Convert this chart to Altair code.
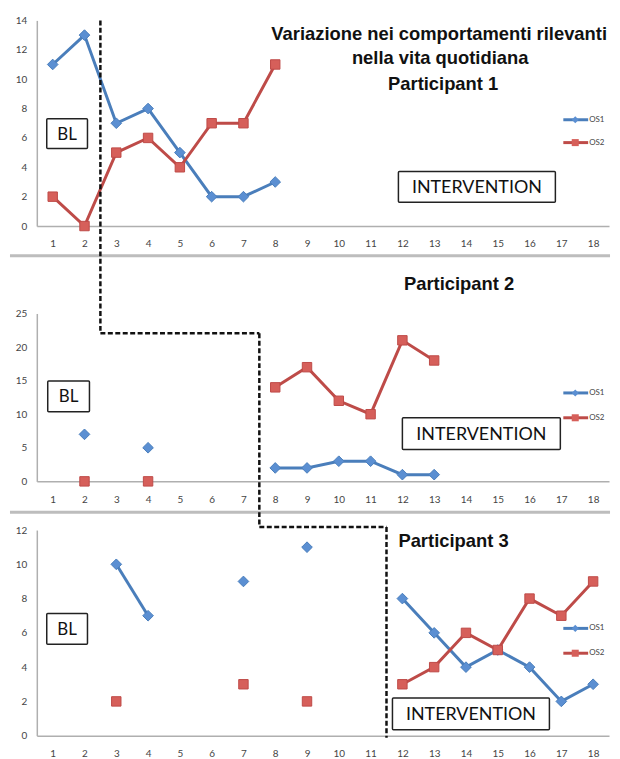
import altair as alt
import pandas as pd

FONT = "Lato"
TITLE_FONT = "Liberation Sans"
N = None

# sessions 1..18
X = list(range(1, 19))

# Participant 1
P1_OS1 = [11, 13, 7, 8, 5, 2, 2, 3] + [N] * 10
P1_OS2 = [2, 0, 5, 6, 4, 7, 7, 11] + [N] * 10
# Participant 2
P2_OS1 = [N, 7, N, 5, N, N, N, 2, 2, 3, 3, 1, 1, N, N, N, N, N]
P2_OS2 = [N, 0, N, 0, N, N, N, 14, 17, 12, 10, 21, 18, N, N, N, N, N]
# Participant 3
P3_OS1 = [N, N, 10, 7, N, N, 9, N, 11, N, N, 8, 6, 4, 5, 4, 2, 3]
P3_OS2 = [N, N, 2, N, N, N, 3, N, 2, N, N, 3, 4, 6, 5, 8, 7, 9]

SERIES = ["OS1", "OS2"]
LINE_COLORS = ["#4A7EBB", "#BE4B48"]
POINT_FILLS = ["#5B8FD2", "#D65F5A"]
SHAPES = ["diamond", "square"]
POINT_SIZES = [115, 90]

TITLE_LINES = ["Variazione nei comportamenti rilevanti", "nella vita quotidiana", "Participant 1"]
P2_TITLE = "Participant 2"
P3_TITLE = "Participant 3"
BL_TEXT = "BL"
INT_TEXT = "INTERVENTION"

# phase changes (between sessions)
P1_CHANGE = 2.5
P2_CHANGE = 7.5
P3_CHANGE = 11.5

W = 576
H1, H2, H3 = 207, 169, 207
GAP1, GAP2 = 88, 49


def long_df(os1, os2):
    rows = []
    for name, vals in zip(SERIES, (os1, os2)):
        seg = 0
        for x, v in zip(X, vals):
            if v is None:
                seg += 1
                continue
            rows.append({"x": x, "v": v, "s": name, "seg": f"{name}-{seg}"})
    return pd.DataFrame(rows)


ONE = pd.DataFrame({"a": [0]})


def text_mark(txt, x, y, size, bold=False, align="center", color="#111", font=FONT, baseline="middle"):
    return alt.Chart(pd.DataFrame({"t": [txt]})).mark_text(
        align=align, baseline=baseline, fontSize=size, font=font,
        fontWeight="bold" if bold else "normal", color=color
    ).encode(x=alt.value(x), y=alt.value(y), text="t:N")


def title_mark(txt, x, y, align="center"):
    return text_mark(txt, x, y, 18.5, bold=True, align=align, font=TITLE_FONT, baseline="alphabetic")


def box(txt, x0, x1, y0, y1, size):
    r = alt.Chart(ONE).mark_rect(fill="white", fillOpacity=0, stroke="#222", strokeWidth=1.5, cornerRadius=1).encode(
        x=alt.value(x0), x2=alt.value(x1), y=alt.value(y0), y2=alt.value(y1))
    t = text_mark(txt, (x0 + x1) / 2, (y0 + y1) / 2 + 1, size)
    return [r, t]


def legend(y1, y2):
    out = []
    for name, col, fill, shp, yy in zip(SERIES, LINE_COLORS, POINT_FILLS, SHAPES, (y1, y2)):
        out.append(alt.Chart(ONE).mark_rule(color=col, strokeWidth=3).encode(
            x=alt.value(530), x2=alt.value(555), y=alt.value(yy)))
        out.append(alt.Chart(ONE).mark_point(shape=shp, filled=True, color=fill, opacity=1, size=50).encode(
            x=alt.value(542), y=alt.value(yy)))
        out.append(text_mark(name, 556, yy, 8, align="left", color="#444"))
    return out


def dash(**enc):
    return alt.Chart(ONE).mark_rule(color="#111", strokeWidth=2.5, strokeDash=[5, 2.5]).encode(**enc)


def separator(y):
    return alt.Chart(ONE).mark_rule(color="#BDBDBD", strokeWidth=3).encode(
        x=alt.value(-27), x2=alt.value(577), y=alt.value(y))


X_SCALE = alt.Scale(domain=[0.5, 18.5], nice=False, zero=False)
X_AXIS = alt.Axis(values=X, format="d", title=None, ticks=False, grid=False,
                  labelPadding=13, labelFlush=False, labelOverlap=False)


def panel(os1, os2, ymax, ystep, h, extras):
    df = long_df(os1, os2)
    xs = alt.X("x:Q", scale=X_SCALE, axis=X_AXIS)
    ys = alt.Y("v:Q", scale=alt.Scale(domain=[0, ymax], nice=False, zero=True),
               axis=alt.Axis(values=list(range(0, ymax + 1, ystep)), title=None, ticks=False,
                             grid=False, labelPadding=10, labelFlush=False, labelOverlap=False))
    color = alt.Color("s:N", scale=alt.Scale(domain=SERIES, range=LINE_COLORS), legend=None)
    lines = alt.Chart(df).mark_line(strokeWidth=3).encode(x=xs, y=ys, color=color, detail="seg:N")
    layers = [lines]
    for name, fill, col, shp, sz in zip(SERIES, POINT_FILLS, LINE_COLORS, SHAPES, POINT_SIZES):
        layers.append(alt.Chart(df).transform_filter(alt.datum.s == name).mark_point(
            shape=shp, filled=True, fill=fill, stroke=col, strokeWidth=1, opacity=1, size=sz
        ).encode(x=xs, y=ys))
    return alt.layer(*extras[0], *layers, *extras[1]).properties(width=W, height=h)


def spacer(h):
    return alt.Chart(ONE).mark_point(opacity=0).encode(x=alt.value(0), y=alt.value(0)).properties(width=W, height=h)


def xd(v):
    return alt.X(datum=v, scale=X_SCALE, axis=X_AXIS)


def x2d(v):
    return alt.X2(datum=v)


# ---------- Panel 1 ----------
p1_front = [
    title_mark(TITLE_LINES[0], 405, 20),
    title_mark(TITLE_LINES[1], 406, 44),
    title_mark(TITLE_LINES[2], 409, 70),
    *box(BL_TEXT, 10, 51, 99, 129, 17),
    *box(INT_TEXT, 364, 522, 152, 183, 18),
    *legend(100, 123),
    dash(x=xd(P1_CHANGE), y=alt.value(0), y2=alt.value(H1 + GAP1 + 20)),
]
p1 = panel(P1_OS1, P1_OS2, 14, 2, H1, ([separator(H1 + 30)], p1_front))

# ---------- Panel 2 ----------
p2_front = [
    title_mark(P2_TITLE, 425, -24),
    *box(BL_TEXT, 11, 53, 68, 99, 17),
    *box(INT_TEXT, 368, 527, 105, 137, 18),
    *legend(80, 105),
    dash(x=xd(P1_CHANGE), x2=x2d(P2_CHANGE), y=alt.value(20)),
    dash(x=xd(P2_CHANGE), y=alt.value(20), y2=alt.value(H2 + GAP2 - 3)),
]
p2 = panel(P2_OS1, P2_OS2, 25, 5, H2, ([separator(H2 + 31)], p2_front))

# ---------- Panel 3 ----------
p3_front = [
    title_mark(P3_TITLE, 364, 17, align="left"),
    *box(BL_TEXT, 10, 51, 84, 115, 17),
    *box(INT_TEXT, 358, 516, 169, 201, 18),
    *legend(99, 124),
    dash(x=xd(P2_CHANGE), x2=x2d(P3_CHANGE), y=alt.value(-3)),
    dash(x=xd(P3_CHANGE), y=alt.value(-3), y2=alt.value(H3 + 2)),
]
p3 = panel(P3_OS1, P3_OS2, 12, 2, H3, ([], p3_front))

chart = alt.vconcat(p1, spacer(GAP1), p2, spacer(GAP2), p3, spacing=0, bounds="flush").properties(
    padding={"left": 0, "top": 5, "right": 0, "bottom": 0}
).configure_view(stroke=None).configure_axis(
    domainColor="#AFAFAF", domainWidth=1.5, labelColor="#444", labelFontSize=10, labelFont=FONT,
    labelOverlap=False, labelFlush=False
)

chart.save("out.html", embed_options={"renderer": "svg", "actions": False})
